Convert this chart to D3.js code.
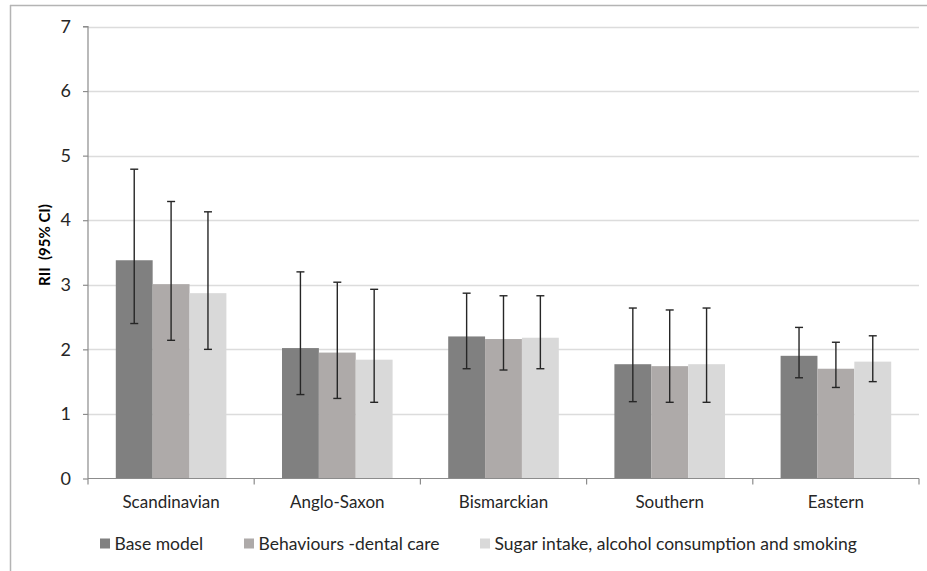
<!DOCTYPE html>
<html>
<head>
<meta charset="utf-8">
<script src="https://cdn.jsdelivr.net/npm/d3@7"></script>
<style>
html,body{margin:0;padding:0;background:#fff;}
svg{display:block;}
</style>
</head>
<body>
<svg id="chart" width="927" height="571"></svg>
<script>
const categories = ["Scandinavian", "Anglo-Saxon", "Bismarckian", "Southern", "Eastern"];
const seriesNames = ["Base model", "Behaviours -dental care", "Sugar intake, alcohol consumption and smoking"];
const seriesColors = ["#808080", "#aeaaa9", "#d9d9d9"];
// RII estimates per series (same order as categories)
const baseModel   = [3.38, 2.02, 2.20, 1.77, 1.90];
const behaviours  = [3.01, 1.95, 2.16, 1.74, 1.70];
const sugarEtc    = [2.87, 1.84, 2.18, 1.77, 1.81];
// 95% CI lower bounds
const baseLow     = [2.40, 1.30, 1.70, 1.19, 1.56];
const behavLow    = [2.14, 1.24, 1.68, 1.18, 1.41];
const sugarLow    = [2.00, 1.18, 1.70, 1.18, 1.50];
// 95% CI upper bounds
const baseHigh    = [4.79, 3.20, 2.87, 2.64, 2.34];
const behavHigh   = [4.29, 3.04, 2.83, 2.61, 2.11];
const sugarHigh   = [4.13, 2.93, 2.83, 2.64, 2.21];
const yTicks = [0, 1, 2, 3, 4, 5, 6, 7];

const values = [baseModel, behaviours, sugarEtc];
const lows = [baseLow, behavLow, sugarLow];
const highs = [baseHigh, behavHigh, sugarHigh];

const svg = d3.select("#chart");
const FONT = "Lato, 'Liberation Sans', Arial, sans-serif";

// outer frame (top and left visible)
svg.append("line").attr("x1", 10).attr("x2", 927).attr("y1", 5.5).attr("y2", 5.5)
  .attr("stroke", "#b4b4b4").attr("stroke-width", 1.5);
svg.append("line").attr("x1", 10.5).attr("x2", 10.5).attr("y1", 5).attr("y2", 571)
  .attr("stroke", "#b4b4b4").attr("stroke-width", 1.5);

const pLeft = 88, pRight = 919, pTop = 26.5, pBottom = 478.5;

const y = d3.scaleLinear().domain([0, 7]).range([pBottom, pTop]);
const x0 = d3.scaleBand().domain(categories).range([pLeft, pRight]).paddingInner(0).paddingOuter(0);
const x1 = d3.scaleBand().domain(d3.range(seriesNames.length)).range([0, x0.bandwidth()])
  .paddingInner(0).paddingOuter(0.754);

// gridlines
svg.append("g").selectAll("line").data(yTicks.filter(t => t > 0)).join("line")
  .attr("x1", pLeft).attr("x2", pRight)
  .attr("y1", d => Math.round(y(d)) + 0.5).attr("y2", d => Math.round(y(d)) + 0.5)
  .attr("stroke", "#dcdcdc").attr("stroke-width", 1.5);

// bars
const groups = svg.append("g").selectAll("g").data(categories).join("g")
  .attr("transform", c => `translate(${x0(c)},0)`);

groups.each(function(c, ci) {
  const g = d3.select(this);
  seriesNames.forEach((s, si) => {
    g.append("rect")
      .attr("x", x1(si)).attr("width", x1.bandwidth())
      .attr("y", y(values[si][ci])).attr("height", y(0) - y(values[si][ci]))
      .attr("fill", seriesColors[si]);
  });
});

// error bars
groups.each(function(c, ci) {
  const g = d3.select(this);
  seriesNames.forEach((s, si) => {
    const cx = x1(si) + x1.bandwidth() / 2;
    const lo = y(lows[si][ci]), hi = y(highs[si][ci]);
    const col = "#262626";
    g.append("line").attr("x1", cx).attr("x2", cx).attr("y1", lo).attr("y2", hi)
      .attr("stroke", col).attr("stroke-width", 1.4);
    [lo, hi].forEach(yy => {
      g.append("line").attr("x1", cx - 4).attr("x2", cx + 4).attr("y1", yy).attr("y2", yy)
        .attr("stroke", col).attr("stroke-width", 1.4);
    });
  });
});

// y axis
const yAxis = d3.axisLeft(y).tickValues(yTicks).tickSize(5).tickPadding(12).tickFormat(d3.format("d"));
const gy = svg.append("g").attr("transform", `translate(${pLeft},0)`).call(yAxis);
gy.select(".domain").attr("stroke", "#8c8c8c").attr("stroke-width", 1.2).attr("d", `M-5,${pTop}H0V${pBottom}`);
gy.selectAll(".tick line").attr("stroke", "#8c8c8c").attr("stroke-width", 1.2);
gy.selectAll(".tick text").attr("font-family", FONT).attr("font-size", 18).attr("fill", "#262626");

// x axis
const xAxis = d3.axisBottom(x0).tickSize(0).tickPadding(17);
const gx = svg.append("g").attr("transform", `translate(0,${pBottom})`).call(xAxis);
gx.select(".domain").attr("stroke", "#8c8c8c").attr("stroke-width", 1.2).attr("d", `M${pLeft},0H${pRight}`);
gx.selectAll(".tick text").attr("font-family", FONT).attr("font-size", 17).attr("fill", "#262626");
// category boundary ticks
const boundaries = categories.map(c => x0(c)).concat([pRight]);
svg.append("g").selectAll("line").data(boundaries).join("line")
  .attr("x1", d => d).attr("x2", d => d).attr("y1", pBottom).attr("y2", pBottom + 6)
  .attr("stroke", "#8c8c8c").attr("stroke-width", 1.2);

// y title
svg.append("text")
  .attr("transform", `translate(50,245) rotate(-90)`)
  .attr("text-anchor", "middle")
  .attr("font-family", FONT).attr("font-weight", "bold").attr("font-size", 15).attr("fill", "#000")
  .attr("xml:space", "preserve")
  .text("RII  (95% CI)");

// legend
const legendX = [100, 244, 480];
const lg = svg.append("g");
seriesNames.forEach((s, i) => {
  lg.append("rect").attr("x", legendX[i]).attr("y", 538.5).attr("width", 10).attr("height", 10)
    .attr("fill", seriesColors[i]);
  lg.append("text").attr("x", legendX[i] + 14.5).attr("y", 550)
    .attr("font-family", FONT).attr("font-size", 17.5).attr("fill", "#262626").text(s);
});
</script>
</body>
</html>
